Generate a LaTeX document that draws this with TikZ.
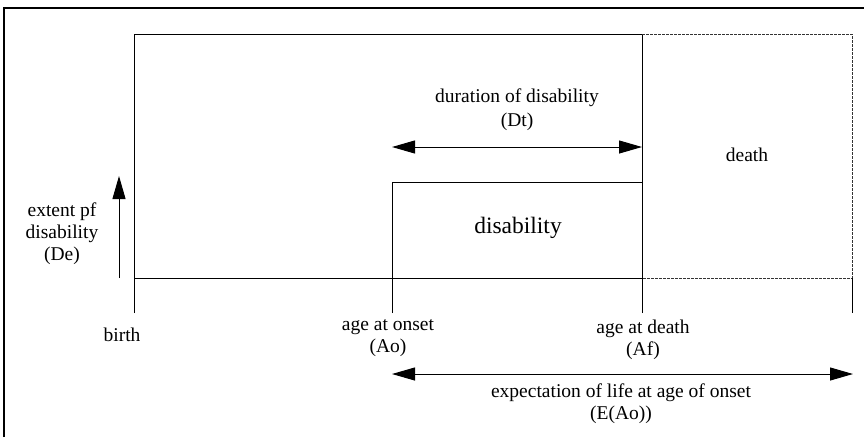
\documentclass[tikz,border=0pt]{standalone}
\usepackage{fontspec}
\setmainfont{Liberation Serif}
\usetikzlibrary{arrows.meta}
\begin{document}
\begin{tikzpicture}[x=1pt,y=-1pt,
  line width=1pt,
  lbl/.style={align=center,inner sep=0pt,font=\fontsize{19.5}{22}\selectfont},
  big/.style={inner sep=0pt,font=\fontsize{23.5}{26}\selectfont},
  dbox/.style={draw=black!80,line width=1pt,dash pattern=on 3pt off 1pt},
  arr/.style={-{Triangle[length=23pt,width=13pt]}},
  darr/.style={{Triangle[length=23pt,width=13pt]}-{Triangle[length=23pt,width=13pt]}}]
\useasboundingbox (0,0) rectangle (864,437);
% frame
\draw[line width=1.2pt] (4,437) -- (4,8) -- (864,8);
% key coordinates
\coordinate (bT) at (134,34);
\coordinate (bB) at (134,278);
\coordinate (bX) at (134,313);
\coordinate (oT) at (392,182);
\coordinate (oB) at (392,278);
\coordinate (oX) at (392,313);
\coordinate (dT) at (642,34);
\coordinate (dM) at (642,182);
\coordinate (dB) at (642,278);
\coordinate (dX) at (642,313);
\coordinate (rT) at (852,34);
\coordinate (rB) at (852,278);
\coordinate (rX) at (852,313);
% main lines
\draw (bX) -- (bT) -- (dT);
\draw (bB) -- (dB);
\draw (oX) -- (oT) -- (dM);
\draw (dX) -- (dT);
\draw[dbox] (dT) -- (rT) -- (rB) -- (dB);
\draw (rB) -- (rX);
% labels
\node[lbl] (ext) at (62,234) {extent pf\\disability\\(De)};
\coordinate (ua) at (119,278);
\coordinate (ub) at (119,176);
\draw[arr] (ua) -- (ub);
\node[lbl] (dur) at (517,110) {duration of disability\\[2pt](Dt)};
\coordinate (da) at (392,147);
\coordinate (db) at (642,147);
\draw[darr] (da) -- (db);
\node[big] (dis) at (518,228) {disability};
\node[lbl] (dth) at (747,155) {death};
\node[lbl] (birth) at (122,335) {birth};
\node[lbl] (ons) at (388,338) {age at onset\\(Ao)};
\node[lbl] (afd) at (643,340) {age at death\\(Af)};
\coordinate (ea) at (392,374);
\coordinate (eb) at (853,374);
\draw[darr] (ea) -- (eb);
\node[lbl] (exp) at (621,404) {expectation of life at age of onset\\(E(Ao))};
\end{tikzpicture}
\end{document}
